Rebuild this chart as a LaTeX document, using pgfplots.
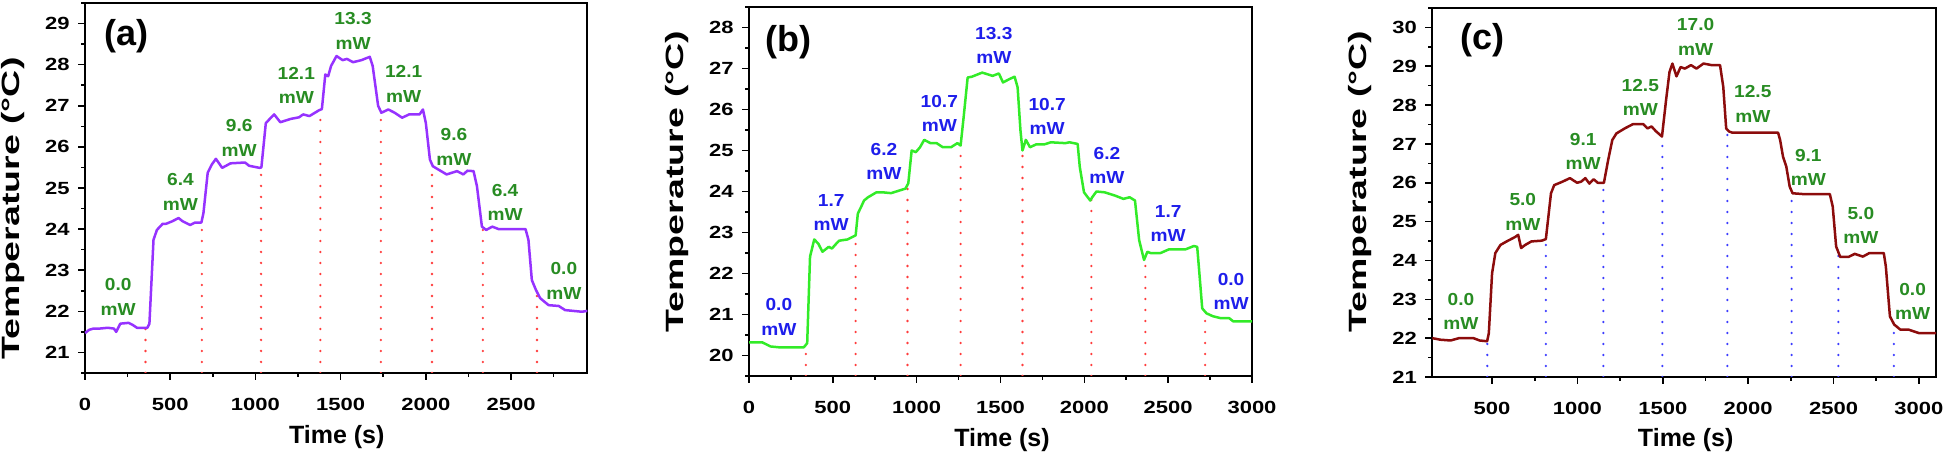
\documentclass[border=0pt]{standalone}
\usepackage{fontspec}
\setmainfont{Liberation Sans}
\usepackage{graphicx}
\usepackage{pgfplots}
\pgfplotsset{compat=1.18}
\definecolor{purp}{RGB}{150,50,255}
\definecolor{lgreen}{RGB}{50,235,40}
\definecolor{dred}{RGB}{140,12,12}
\definecolor{labgreen}{RGB}{40,140,35}
\definecolor{labblue}{RGB}{30,30,235}
\definecolor{dotred}{RGB}{255,60,60}
\definecolor{dotblue}{RGB}{60,60,255}
\newcommand\ml[1]{\scalebox{1.1}[1]{#1}\\\scalebox{1.1}[1]{mW}}

\pgfplotstableread{
t T
0 21.47
24 21.55
49 21.58
85 21.58
134 21.6
170 21.58
183 21.5
207 21.7
256 21.72
280 21.67
305 21.6
366 21.6
378 21.7
402 23.74
422 23.98
456 24.13
476 24.13
512 24.19
549 24.27
573 24.19
617 24.1
646 24.16
683 24.16
695 24.39
720 25.37
744 25.57
768 25.71
805 25.49
854 25.6
939 25.62
963 25.54
1024 25.49
1035 25.5
1061 26.58
1110 26.79
1146 26.6
1207 26.68
1256 26.72
1280 26.79
1317 26.75
1373 26.89
1390 26.92
1410 27.76
1427 27.72
1444 27.97
1476 28.21
1512 28.11
1537 28.14
1573 28.06
1622 28.11
1671 28.19
1688 27.97
1720 27.0
1739 26.83
1780 26.91
1817 26.83
1861 26.71
1902 26.79
1963 26.79
1983 26.91
2000 26.58
2024 25.69
2041 25.53
2073 25.45
2122 25.33
2183 25.41
2220 25.33
2244 25.42
2280 25.41
2300 25.04
2329 24.06
2354 23.98
2390 24.06
2427 24.0
2585 24.0
2602 23.74
2622 22.76
2646 22.52
2671 22.32
2720 22.15
2780 22.13
2817 22.03
2915 21.99
2948 22.01
}\dataA

\pgfplotstableread{
t T
0 20.32
79 20.32
129 20.22
178 20.2
327 20.2
347 20.3
364 22.41
389 22.83
413 22.73
438 22.53
475 22.65
495 22.61
512 22.69
537 22.8
587 22.83
636 22.93
649 23.46
668 23.62
686 23.78
710 23.86
760 23.98
797 23.98
847 23.96
933 24.07
950 24.2
970 25.0
995 24.96
1020 25.08
1045 25.26
1082 25.18
1119 25.18
1156 25.08
1205 25.08
1243 25.18
1262 25.12
1280 25.81
1304 26.78
1329 26.8
1391 26.9
1453 26.82
1490 26.88
1515 26.66
1552 26.74
1584 26.8
1602 26.54
1619 25.49
1631 25.0
1651 25.26
1676 25.08
1713 25.15
1762 25.15
1800 25.2
1886 25.18
1911 25.2
1960 25.16
1973 24.59
1998 23.98
2035 23.78
2047 23.86
2072 24.0
2121 23.98
2183 23.9
2233 23.82
2270 23.86
2302 23.78
2327 22.81
2356 22.33
2376 22.53
2394 22.5
2455 22.5
2505 22.59
2604 22.59
2653 22.67
2673 22.65
2683 22.16
2703 21.15
2728 21.03
2765 20.96
2814 20.91
2864 20.91
2889 20.83
3000 20.83
}\dataB

\pgfplotstableread{
t T
150 22.0
197 21.96
257 21.94
306 22.0
391 22.0
427 21.94
471 21.92
481 22.13
500 23.67
519 24.19
549 24.4
585 24.49
633 24.6
653 24.66
670 24.32
694 24.4
730 24.49
791 24.51
815 24.55
845 25.73
864 25.94
913 26.03
956 26.12
998 26.0
1022 26.03
1046 26.12
1070 25.98
1095 26.09
1119 26.0
1155 26.0
1180 26.59
1204 27.1
1228 27.27
1277 27.4
1325 27.51
1386 27.51
1410 27.4
1434 27.45
1459 27.33
1495 27.19
1519 28.13
1539 28.85
1556 29.07
1580 28.74
1604 28.98
1629 28.94
1665 29.03
1697 28.94
1738 29.07
1786 29.03
1835 29.03
1854 28.47
1871 27.4
1888 27.32
1908 27.29
2175 27.29
2187 27.1
2204 26.67
2223 26.42
2243 25.9
2260 25.73
2320 25.71
2478 25.71
2495 25.39
2515 24.36
2539 24.09
2587 24.09
2624 24.17
2672 24.1
2709 24.19
2794 24.19
2806 23.85
2830 22.56
2855 22.35
2891 22.22
2939 22.22
3000 22.13
3100 22.13
}\dataC

\tikzset{
  curve/.style={line width=1.25pt, line join=round},
  dotl/.style={line width=1.3pt, line cap=round, dash pattern=on 0pt off 5.5pt},
  lab/.style={font=\fontsize{8.7}{12.2}\selectfont\bfseries, align=center},
  plab/.style={font=\fontsize{18}{20}\selectfont\bfseries},
}
\pgfplotsset{
  panel/.style={
    scale only axis, anchor=south west,
    axis line style={line width=1pt},
    every tick/.style={black, line width=0.8pt},
    tick align=outside, xtick pos=bottom, ytick pos=left,
    major tick length=3.5pt, minor tick length=2pt,
    minor x tick num=1, minor y tick num=1,
    xtick distance=500, ytick distance=1,
    tick label style={font=\fontsize{8.8}{10}\selectfont\bfseries},
    /pgf/number format/assume math mode=true,
    /pgf/number format/1000 sep={},
    xticklabel={\scalebox{1.25}[1]{\pgfmathprintnumber{\tick}}},
    yticklabel={\scalebox{1.25}[1]{\pgfmathprintnumber{\tick}}},
    yticklabel style={inner sep=0pt, anchor=east, xshift=-4pt},
    xticklabel style={inner sep=0pt, anchor=north, yshift=-9pt},
    xlabel={Time (s)},
    ylabel={\scalebox{1.5}[1]{Temperature (°C)}},
    label style={font=\fontsize{12.5}{14}\selectfont\bfseries},
  },
}

\begin{document}
\begin{tikzpicture}
\useasboundingbox (0,0) rectangle (973pt,229pt);

% ---------------- (a)
\begin{axis}[panel, at={(42.5pt,42.5pt)}, width=251.2pt, height=185pt,
  xmin=0, xmax=2948, ymin=20.5, ymax=29.5,
  xlabel style={at={(axis description cs:0.501,-0.172)}, anchor=center},
  ylabel style={at={(axis description cs:-0.143,0.445)}, anchor=center}]
\addplot[dotl, dotred] coordinates {(355,20.5) (355,21.6)};
\addplot[dotl, dotred] coordinates {(686,20.5) (686,24.15)};
\addplot[dotl, dotred] coordinates {(1033,20.5) (1033,25.48)};
\addplot[dotl, dotred] coordinates {(1381,20.5) (1381,26.9)};
\addplot[dotl, dotred] coordinates {(1736,20.5) (1736,26.84)};
\addplot[dotl, dotred] coordinates {(2036,20.5) (2036,25.55)};
\addplot[dotl, dotred] coordinates {(2335,20.5) (2335,24.03)};
\addplot[dotl, dotred] coordinates {(2652,20.5) (2652,22.45)};
\addplot[curve, purp] table[x=t, y=T] {\dataA};
\node[plab] at (rel axis cs:0.083,0.909) {(a)};
\node[lab, labgreen] at (axis cs:195,22.35) {\ml{0.0}};
\node[lab, labgreen] at (axis cs:560,24.9) {\ml{6.4}};
\node[lab, labgreen] at (axis cs:905,26.22) {\ml{9.6}};
\node[lab, labgreen] at (axis cs:1240,27.5) {\ml{12.1}};
\node[lab, labgreen] at (axis cs:1573,28.82) {\ml{13.3}};
\node[lab, labgreen] at (axis cs:1870,27.53) {\ml{12.1}};
\node[lab, labgreen] at (axis cs:2165,26.0) {\ml{9.6}};
\node[lab, labgreen] at (axis cs:2465,24.65) {\ml{6.4}};
\node[lab, labgreen] at (axis cs:2810,22.74) {\ml{0.0}};
\end{axis}

% ---------------- (b)
\begin{axis}[panel, at={(374.5pt,41pt)}, width=251.5pt, height=184.5pt,
  xmin=0, xmax=3000, ymin=19.5, ymax=28.5,
  xlabel style={at={(axis description cs:0.503,-0.173)}, anchor=center},
  ylabel style={at={(axis description cs:-0.144,0.527)}, anchor=center}]
\addplot[dotl, dotred] coordinates {(339,19.5) (339,20.22)};
\addplot[dotl, dotred] coordinates {(636,19.5) (636,22.93)};
\addplot[dotl, dotred] coordinates {(945,19.5) (945,24.18)};
\addplot[dotl, dotred] coordinates {(1262,19.5) (1262,25.12)};
\addplot[dotl, dotred] coordinates {(1631,19.5) (1631,25.0)};
\addplot[dotl, dotred] coordinates {(2042,19.5) (2042,23.8)};
\addplot[dotl, dotred] coordinates {(2364,19.5) (2364,22.3)};
\addplot[dotl, dotred] coordinates {(2720,19.5) (2720,21.05)};
\addplot[curve, lgreen] table[x=t, y=T] {\dataB};
\node[plab] at (rel axis cs:0.078,0.906) {(b)};
\node[lab, labblue] at (axis cs:178,20.94) {\ml{0.0}};
\node[lab, labblue] at (axis cs:490,23.49) {\ml{1.7}};
\node[lab, labblue] at (axis cs:805,24.73) {\ml{6.2}};
\node[lab, labblue] at (axis cs:1135,25.9) {\ml{10.7}};
\node[lab, labblue] at (axis cs:1460,27.56) {\ml{13.3}};
\node[lab, labblue] at (axis cs:1778,25.83) {\ml{10.7}};
\node[lab, labblue] at (axis cs:2135,24.63) {\ml{6.2}};
\node[lab, labblue] at (axis cs:2500,23.22) {\ml{1.7}};
\node[lab, labblue] at (axis cs:2875,21.57) {\ml{0.0}};
\end{axis}

% ---------------- (c)
\begin{axis}[panel, at={(716.15pt,40.5pt)}, width=251.85pt, height=184.5pt,
  xmin=150, xmax=3100, ymin=21, ymax=30.5,
  xtick={500,1000,...,3000},
  xlabel style={at={(axis description cs:0.503,-0.171)}, anchor=center},
  ylabel style={at={(axis description cs:-0.1435,0.529)}, anchor=center}]
\addplot[dotl, dotblue] coordinates {(472,21) (472,21.92)};
\addplot[dotl, dotblue] coordinates {(815,21) (815,24.55)};
\addplot[dotl, dotblue] coordinates {(1152,21) (1152,26.0)};
\addplot[dotl, dotblue] coordinates {(1497,21) (1497,27.19)};
\addplot[dotl, dotblue] coordinates {(1878,21) (1878,27.35)};
\addplot[dotl, dotblue] coordinates {(2254,21) (2254,25.75)};
\addplot[dotl, dotblue] coordinates {(2528,21) (2528,24.12)};
\addplot[dotl, dotblue] coordinates {(2853,21) (2853,22.38)};
\addplot[curve, dred] table[x=t, y=T] {\dataC};
\node[plab] at (rel axis cs:0.10,0.913) {(c)};
\node[lab, labgreen] at (axis cs:318,22.69) {\ml{0.0}};
\node[lab, labgreen] at (axis cs:680,25.25) {\ml{5.0}};
\node[lab, labgreen] at (axis cs:1034,26.8) {\ml{9.1}};
\node[lab, labgreen] at (axis cs:1368,28.2) {\ml{12.5}};
\node[lab, labgreen] at (axis cs:1692,29.76) {\ml{17.0}};
\node[lab, labgreen] at (axis cs:2027,28.03) {\ml{12.5}};
\node[lab, labgreen] at (axis cs:2352,26.4) {\ml{9.1}};
\node[lab, labgreen] at (axis cs:2660,24.9) {\ml{5.0}};
\node[lab, labgreen] at (axis cs:2963,22.95) {\ml{0.0}};
\end{axis}
\end{tikzpicture}
\end{document}
